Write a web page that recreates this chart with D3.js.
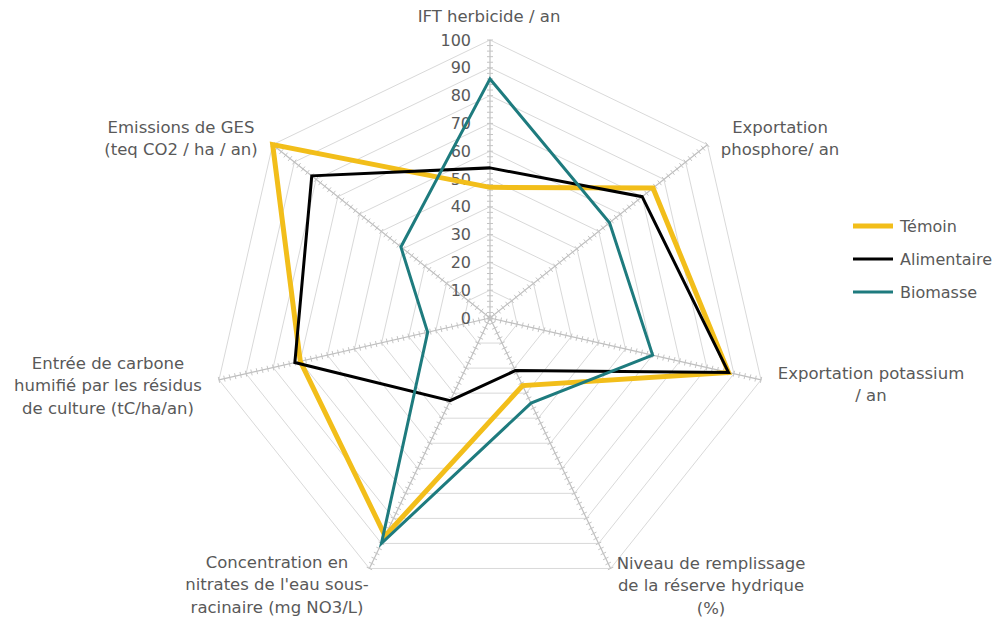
<!DOCTYPE html>
<html>
<head>
    <title>Radar</title>
    <style>
        body { margin: 0; padding: 0; background: #fff; }
        svg { display: block; }
        text { font-family: "DejaVu Sans", sans-serif; fill: #595959; }
    </style>
</head>
<body>
    <div id="chart"></div>
    <script src="https://d3js.org/d3.v7.min.js"></script>
    <script>
        // axis labels (one entry per line)
        const axisLabels = [
            ['IFT herbicide / an'],
            ['Exportation', 'phosphore/ an'],
            ['Exportation potassium', '/ an'],
            ['Niveau de remplissage', 'de la réserve hydrique', '(%)'],
            ['Concentration en', "nitrates de l'eau sous-", 'racinaire (mg NO3/L)'],
            ['Entrée de carbone', 'humifié par les résidus', 'de culture (tC/ha/an)'],
            ['Emissions de GES', '(teq CO2 / ha / an)']
        ];
        const seriesNames = ['Témoin', 'Alimentaire', 'Biomasse'];
        const temoin = [47, 75, 88, 27, 87, 70, 100];
        const alimentaire = [54, 70, 88, 21, 33, 72, 82];
        const biomasse = [86, 55, 60, 34, 90, 23, 41];
        const tickValues = [0, 10, 20, 30, 40, 50, 60, 70, 80, 90, 100];

        const width = 1000, height = 617;
        const cx = 490, cy = 318, R = 278;
        const colors = ['#F2BE1A', '#000000', '#1E7B7E'];
        const strokeW = [5, 3, 3];
        // label centres (layout only)
        const labelPos = [[489, 16], [780, 127], [871, 373], [711, 563], [277, 562], [108, 363], [181, 127]];

        const svg = d3.select('#chart').append('svg')
            .attr('width', width)
            .attr('height', height);

        const n = axisLabels.length;
        const angle = d3.scaleLinear().domain([0, n]).range([0, 2 * Math.PI]);
        const r = d3.scaleLinear().domain([0, 100]).range([0, R]);

        const g = svg.append('g').attr('transform', `translate(${cx},${cy})`);

        // grid polygons
        const ringLine = d3.lineRadial()
            .angle((d, i) => angle(i))
            .radius(d => r(d))
            .curve(d3.curveLinearClosed);
        tickValues.filter(v => v > 0).forEach(v => {
            g.append('path')
                .attr('d', ringLine(d3.range(n).map(() => v)))
                .attr('fill', 'none')
                .attr('stroke', '#d9d9d9')
                .attr('stroke-width', 1);
        });

        // spokes with minor ticks
        const minor = d3.range(0, 101, 2);
        for (let i = 0; i < n; i++) {
            const a = angle(i);
            const sx = Math.sin(a), sy = -Math.cos(a);
            g.append('line')
                .attr('x1', 0).attr('y1', 0)
                .attr('x2', r(100) * sx).attr('y2', r(100) * sy)
                .attr('stroke', '#bfbfbf').attr('stroke-width', 1.2);
            const px = -sy, py = sx;
            g.append('g').selectAll('line').data(minor).enter().append('line')
                .attr('x1', d => r(d) * sx - px * 3)
                .attr('y1', d => r(d) * sy - py * 3)
                .attr('x2', d => r(d) * sx + px * 3)
                .attr('y2', d => r(d) * sy + py * 3)
                .attr('stroke', '#c4c4c4').attr('stroke-width', 1);
        }

        // tick labels on first axis
        g.selectAll('.tick').data(tickValues).enter().append('text')
            .attr('class', 'tick')
            .attr('x', -19)
            .attr('y', d => -r(d))
            .attr('dy', '0.35em')
            .attr('text-anchor', 'end')
            .style('font-size', '16px')
            .text(d => d);

        // series
        const seriesLine = d3.lineRadial()
            .angle((d, i) => angle(i))
            .radius(d => r(d))
            .curve(d3.curveLinearClosed);
        [temoin, alimentaire, biomasse].forEach((vals, k) => {
            g.append('path')
                .attr('d', seriesLine(vals))
                .attr('fill', 'none')
                .attr('stroke', colors[k])
                .attr('stroke-width', strokeW[k])
                .attr('stroke-linejoin', 'miter');
        });

        // axis labels
        axisLabels.forEach((lines, i) => {
            const t = svg.append('text')
                .attr('text-anchor', 'middle')
                .style('font-size', '16.5px');
            lines.forEach((ln, j) => {
                t.append('tspan')
                    .attr('x', labelPos[i][0])
                    .attr('y', labelPos[i][1] + j * 22.5)
                    .attr('dy', '0.35em')
                    .text(ln);
            });
        });

        // legend
        const legend = svg.append('g').attr('transform', 'translate(853,226)');
        seriesNames.forEach((name, k) => {
            const row = legend.append('g').attr('transform', `translate(0,${k * 33})`);
            row.append('line')
                .attr('x1', 0).attr('x2', 40)
                .attr('stroke', colors[k])
                .attr('stroke-width', strokeW[k]);
            row.append('text')
                .attr('x', 47)
                .attr('dy', '0.35em')
                .style('font-size', '16px')
                .text(name);
        });
    </script>
</body>
</html>
